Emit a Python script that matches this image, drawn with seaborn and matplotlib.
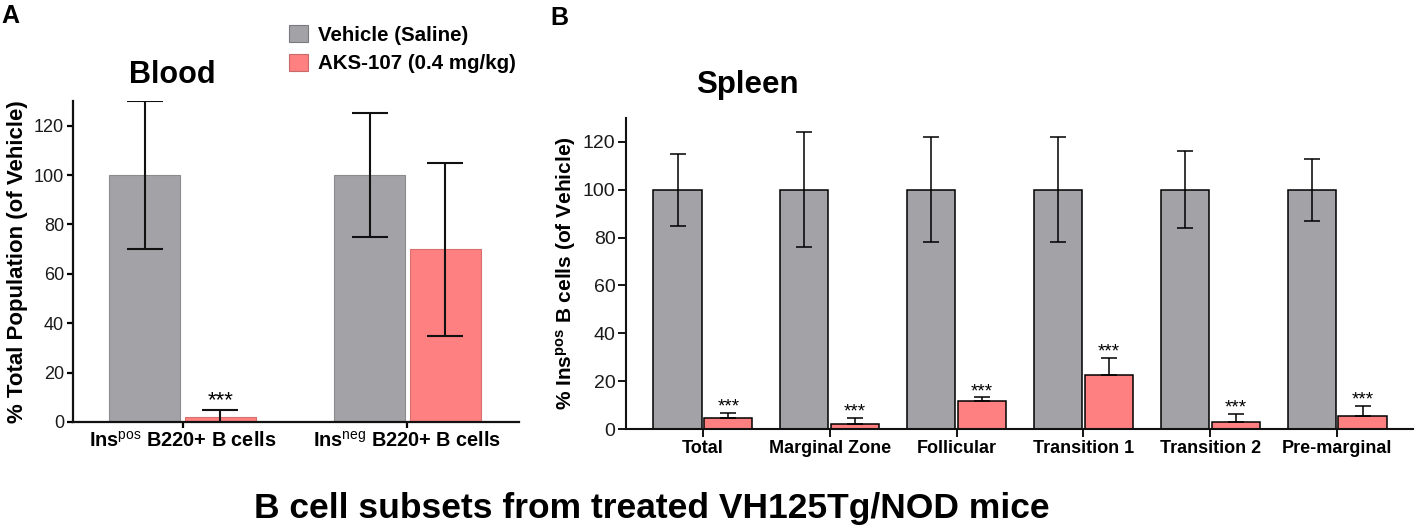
import matplotlib
matplotlib.use("Agg")
import matplotlib.pyplot as plt
from matplotlib.patches import Patch
import seaborn as sns
import pandas as pd

# ---- data ----
groups = ["Vehicle (Saline)", "AKS-107 (0.4 mg/kg)"]

blood_cats = [r"Ins$^{\mathrm{pos}}$ B220+ B cells", r"Ins$^{\mathrm{neg}}$ B220+ B cells"]
blood_vehicle = [100, 100]
blood_vehicle_err = [30, 25]
blood_aks = [2, 70]
blood_aks_err = [3, 35]
blood_stars = ["***", ""]

spleen_cats = ["Total", "Marginal Zone", "Follicular", "Transition 1", "Transition 2", "Pre-marginal"]
spleen_vehicle = [100, 100, 100, 100, 100, 100]
spleen_vehicle_err = [15, 24, 22, 22, 16, 13]
spleen_aks = [4.6, 2.2, 11.5, 22.7, 2.9, 5.4]
spleen_aks_err = [2.1, 2.4, 1.7, 6.9, 3.4, 4.3]
spleen_stars = ["***", "***", "***", "***", "***", "***"]

GRAY = "#a2a2a7"
RED = "#ff8080"
palette = {groups[0]: GRAY, groups[1]: RED}

sns.set_style("ticks")
plt.rcParams["font.family"] = ["Liberation Sans", "DejaVu Sans"]
plt.rcParams["mathtext.fontset"] = "custom"
plt.rcParams["mathtext.rm"] = "Liberation Sans"
plt.rcParams["mathtext.bf"] = "Liberation Sans:bold"
plt.rcParams["mathtext.it"] = "Liberation Sans:italic"
plt.rcParams["text.color"] = "black"
plt.rcParams["axes.labelcolor"] = "black"
plt.rcParams["xtick.color"] = "black"
plt.rcParams["ytick.color"] = "black"

W, H = 1418, 531
fig = plt.figure(figsize=(W / 100, H / 100), dpi=100)


def frame(cats, veh, aks):
    return pd.DataFrame({
        "cat": cats + cats,
        "group": [groups[0]] * len(cats) + [groups[1]] * len(cats),
        "value": veh + aks,
    })


# ===============================
# A - Blood
# ===============================
ax1 = fig.add_axes([73 / W, 1 - 422 / H, (519 - 73) / W, (422 - 101) / H])
df_b = frame(blood_cats, blood_vehicle, blood_aks)
sns.barplot(data=df_b, x="cat", y="value", hue="group", order=blood_cats,
            hue_order=groups, palette=palette, saturation=1, errorbar=None,
            width=0.672, gap=0.057, legend=False, ax=ax1)
for bar in ax1.containers[0]:
    bar.set_edgecolor("#8c8c90")
    bar.set_linewidth(0.8)
for bar in ax1.containers[1]:
    bar.set_edgecolor("#d97070")
    bar.set_linewidth(0.8)

for cont, vals, errs in [(ax1.containers[0], blood_vehicle, blood_vehicle_err),
                         (ax1.containers[1], blood_aks, blood_aks_err)]:
    xs = [b.get_x() + b.get_width() / 2 for b in cont]
    ax1.errorbar(xs, vals, yerr=errs, fmt="none", ecolor="#111111",
                 elinewidth=1.5, capsize=13, capthick=1.5, zorder=5)
for b, v, e, s in zip(ax1.containers[1], blood_aks, blood_aks_err, blood_stars):
    if s:
        ax1.annotate(s, (b.get_x() + b.get_width() / 2, v + e), xytext=(0, 2.5),
                     textcoords="offset points", ha="center", va="baseline",
                     fontsize=16)

ax1.set_ylim(0, 130)
ax1.set_xlim(-0.487, 1.496)
ax1.set_yticks([0, 20, 40, 60, 80, 100, 120])
ax1.set_xlabel("")
ax1.set_ylabel("% Total Population (of Vehicle)", fontsize=16, fontweight="bold")
ax1.yaxis.set_label_coords(-0.101, 0.5)
ax1.tick_params(axis="y", labelsize=13, length=4.5, width=1.6, pad=2, labelcolor="#1a1a1a")
ax1.tick_params(axis="x", labelsize=14.3, length=4.5, width=1.6, pad=2)
for lab in ax1.get_xticklabels():
    lab.set_fontweight("bold")
sns.despine(ax=ax1)
for sp in ["left", "bottom"]:
    ax1.spines[sp].set_linewidth(1.6)
    ax1.spines[sp].set_color("#111111")

# ===============================
# B - Spleen
# ===============================
ax2 = fig.add_axes([626 / W, 1 - 429 / H, (1413 - 626) / W, (429 - 118) / H])
df_s = frame(spleen_cats, spleen_vehicle, spleen_aks)
sns.barplot(data=df_s, x="cat", y="value", hue="group", order=spleen_cats,
            hue_order=groups, palette=palette, saturation=1, errorbar=None,
            width=0.8, gap=0.05, edgecolor="black", linewidth=1.1,
            legend=False, ax=ax2)

xs0 = [b.get_x() + b.get_width() / 2 for b in ax2.containers[0]]
ax2.errorbar(xs0, spleen_vehicle, yerr=spleen_vehicle_err, fmt="none",
             ecolor="black", elinewidth=1.1, capsize=5.5, capthick=1.1, zorder=5)
xs1 = [b.get_x() + b.get_width() / 2 for b in ax2.containers[1]]
ax2.errorbar(xs1, spleen_aks, yerr=[[0] * len(spleen_aks), spleen_aks_err], fmt="none",
             ecolor="black", elinewidth=1.1, capsize=5.5, capthick=1.1, zorder=5)
for x, v, e, s in zip(xs1, spleen_aks, spleen_aks_err, spleen_stars):
    ax2.annotate(s, (x, v + e), xytext=(0, 1), textcoords="offset points",
                 ha="center", va="baseline", fontsize=13.5)

ax2.set_ylim(0, 130)
ax2.set_xlim(-0.606, 5.598)
ax2.set_yticks([0, 20, 40, 60, 80, 100, 120])
ax2.set_xlabel("")
ax2.set_ylabel(r"% Ins$^{\mathbf{pos}}$ B cells (of Vehicle)", fontsize=15, fontweight="bold")
ax2.yaxis.set_label_coords(-0.061, 0.5)
ax2.tick_params(axis="y", labelsize=14, length=6, width=1.3, pad=1.5, labelcolor="#1a1a1a")
ax2.tick_params(axis="x", labelsize=13, length=5.5, width=1.3, pad=2.5)
for lab in ax2.get_xticklabels():
    lab.set_fontweight("bold")
sns.despine(ax=ax2)
for sp in ["left", "bottom"]:
    ax2.spines[sp].set_linewidth(1.5)
    ax2.spines[sp].set_color("#111111")

# ===============================
# legend, titles, panel letters
# ===============================
handles = [Patch(facecolor=GRAY, edgecolor="#7a7a7e", linewidth=0.8, label=groups[0]),
           Patch(facecolor=RED, edgecolor="#c86a6a", linewidth=0.8, label=groups[1])]
fig.legend(handles=handles, loc="upper left", bbox_to_anchor=(289 / W, 1 - 25 / H),
           frameon=False, borderpad=0, borderaxespad=0, handlelength=0.9,
           handleheight=0.9, handletextpad=0.5, labelspacing=0.45,
           prop={"size": 14.8, "weight": "bold"})

fig.text(172 / W, 1 - 83 / H, "Blood", ha="center", va="baseline", fontsize=22, fontweight="bold")
fig.text(747 / W, 1 - 93 / H, "Spleen", ha="center", va="baseline", fontsize=22.5, fontweight="bold")
fig.text(1 / W, 1 - 23 / H, "A", ha="left", va="baseline", fontsize=18, fontweight="bold")
fig.text(550 / W, 1 - 25 / H, "B", ha="left", va="baseline", fontsize=18, fontweight="bold")
fig.text(652 / W, 1 - 518 / H, "B cell subsets from treated VH125Tg/NOD mice",
         ha="center", va="baseline", fontsize=25.5, fontweight="bold")

fig.savefig("out.png", dpi=100)
plt.close(fig)
